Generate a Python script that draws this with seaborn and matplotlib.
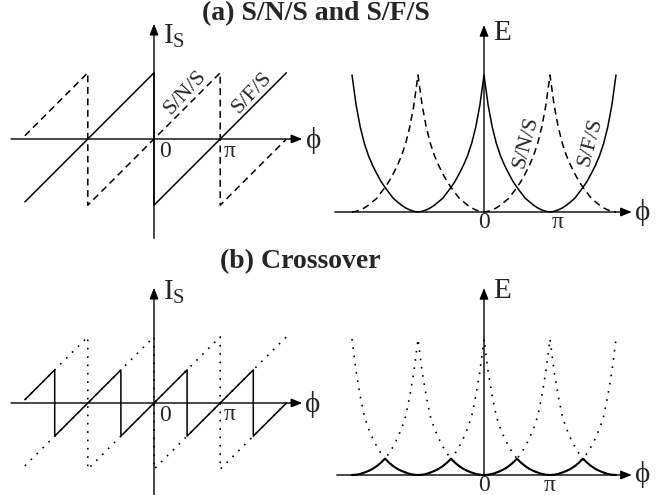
"""
Josephson junction schematic: current-phase and energy-phase relations
for S/N/S, S/F/S and the crossover case.
"""

import numpy as np
import pandas as pd
import matplotlib
matplotlib.use("Agg")
import matplotlib.pyplot as plt
import seaborn as sns


# ---------------------------------------------------------------------------
# Data (phase and current in units of pi, energy normalised to the top)
# ---------------------------------------------------------------------------

# current-phase sawtooth vertices
SNS_PHI = [-1.95, -1.0, -1.0, 1.0, 1.0, 2.0]
SNS_I   = [0.05, 1.0, -1.0, 1.0, -1.0, 0.0]
SFS_PHI = [-1.95, 0.0, 0.0, 2.0]
SFS_I   = [-0.95, 1.0, -1.0, 1.0]
CROSS_PHI = [-1.95, -1.5, -1.5, -0.5, -0.5, 0.5, 0.5, 1.5, 1.5, 2.0]
CROSS_I   = [0.05, 0.5, -0.5, 0.5, -0.5, 0.5, -0.5, 0.5, -0.5, 0.0]

# one energy lobe: distance from the minimum (pi units)
LOBE_U = [0.0, 0.0625, 0.125, 0.1875, 0.25, 0.3125, 0.375, 0.4375, 0.5,
          0.5625, 0.625, 0.6875, 0.75, 0.8125, 0.875, 0.9375, 1.0]
LOBE_E_A = [0.0, 0.005, 0.015, 0.03, 0.05, 0.075, 0.10, 0.14, 0.18,
            0.225, 0.28, 0.34, 0.41, 0.50, 0.62, 0.78, 1.0]
LOBE_E_B = [0.0, 0.002, 0.008, 0.018, 0.03, 0.045, 0.065, 0.09, 0.12,
            0.16, 0.21, 0.27, 0.34, 0.43, 0.58, 0.76, 1.0]

DASHED = (0, (4.5, 3))
DOTTED = (0, (1.0, 4.0))
SERIF = ["Liberation Serif", "DejaVu Serif"]


def build_energy(lobe_e):
    """Chain the lobe over [-2pi, 2pi]; S/N/S minima at 0, +-2pi, S/F/S at +-pi."""
    u = np.asarray(LOBE_U)
    e = np.asarray(lobe_e)
    up, down = e, e[::-1]
    phi = np.concatenate([-2 + u, -1 + u[1:], u[1:], 1 + u[1:]])
    sns_e = np.concatenate([up, down[1:], up[1:], down[1:]])
    sfs_e = np.concatenate([down, up[1:], down[1:], up[1:]])
    return pd.DataFrame({"phi": phi, "sns": sns_e, "sfs": sfs_e})


# ---------------------------------------------------------------------------
# Layout helpers
# ---------------------------------------------------------------------------

W, H = 665, 495


def panel(fig, ox, oy, sx, sy, box):
    """Axes over pixel box (x0, y0, x1, y1) with data origin at pixel (ox, oy)."""
    x0, y0, x1, y1 = box
    ax = fig.add_axes([x0 / W, 1 - y1 / H, (x1 - x0) / W, (y1 - y0) / H])
    ax.set_xlim((x0 - ox) / sx, (x1 - ox) / sx)
    ax.set_ylim((oy - y1) / sy, (oy - y0) / sy)
    ax.axis("off")
    return ax


def arrow(ax, start, end):
    ax.annotate("", xy=end, xytext=start, annotation_clip=False,
                arrowprops=dict(arrowstyle="-|>,head_length=0.55,head_width=0.22",
                                mutation_scale=12, lw=1.0, color="black",
                                shrinkA=0, shrinkB=0))


def line(ax, x, y, ls="-", lw=1.1):
    sns.lineplot(x=x, y=y, sort=False, estimator=None, ax=ax,
                 color="black", linewidth=lw, linestyle=ls)


def label(ax, x, y, s, size=17, **kw):
    ax.text(x, y, s, fontsize=size, family=SERIF, clip_on=False, **kw)


# ---------------------------------------------------------------------------
# Figure
# ---------------------------------------------------------------------------

sns.set_theme(style="white")
plt.rcParams["font.family"] = SERIF
plt.rcParams["mathtext.fontset"] = "custom"
plt.rcParams["mathtext.rm"] = "Liberation Serif"

fig = plt.figure(figsize=(W / 100, H / 100), dpi=100)

energy_a = build_energy(LOBE_E_A)
energy_b = build_energy(LOBE_E_B)
energy_b["min"] = np.minimum(energy_b["sns"], energy_b["sfs"])

# (a) current-phase
ax = panel(fig, 154, 139, 66.2, 66.2, (0, 20, 330, 245))
arrow(ax, (-2.16, 0), (2.24, 0))
arrow(ax, (0, -1.5), (0, 1.74))
line(ax, SNS_PHI, SNS_I, DASHED)
line(ax, SFS_PHI, SFS_I)
label(ax, 0.14, 1.55, r"I$_{\mathrm{S}}$", size=21, ha="left", va="center")
label(ax, 0.07, -0.19, "0", ha="left", va="center")
label(ax, 1.14, -0.19, "π", ha="center", va="center")
label(ax, 2.41, -0.02, "ϕ", size=21, ha="center", va="center")
label(ax, 0.58, 0.60, "S/N/S", size=16, rotation=47, rotation_mode="anchor",
      ha="center", va="bottom")
label(ax, 1.58, 0.60, "S/F/S", size=16, rotation=47, rotation_mode="anchor",
      ha="center", va="bottom")

# (a) energy-phase
ax = panel(fig, 484, 212, 66.0, 137.0, (330, 20, 665, 245))
arrow(ax, (-2.26, 0), (2.24, 0))
arrow(ax, (0, 0), (0, 1.365))
line(ax, energy_a["phi"], energy_a["sns"], DASHED)
line(ax, energy_a["phi"], energy_a["sfs"])
label(ax, 0.28, 1.31, "E", size=21, ha="center", va="center")
label(ax, 0.0, -0.08, "0", ha="center", va="center")
label(ax, 1.12, -0.08, "π", ha="center", va="center")
label(ax, 2.40, 0.0, "ϕ", size=21, ha="center", va="center")
label(ax, 0.64, 0.51, "S/N/S", size=16, rotation=75, ha="center", va="center")
label(ax, 1.62, 0.51, "S/F/S", size=16, rotation=75, ha="center", va="center")

# (b) current-phase
ax = panel(fig, 154, 403, 66.2, 66.2, (0, 280, 330, 495))
arrow(ax, (-2.16, 0), (2.24, 0))
arrow(ax, (0, -1.39), (0, 1.74))
line(ax, SNS_PHI, SNS_I, DOTTED, lw=1.2)
line(ax, SFS_PHI, SFS_I, DOTTED, lw=1.2)
line(ax, CROSS_PHI, CROSS_I)
label(ax, 0.14, 1.68, r"I$_{\mathrm{S}}$", size=21, ha="left", va="center")
label(ax, 0.07, -0.19, "0", ha="left", va="center")
label(ax, 1.14, -0.17, "π", ha="center", va="center")
label(ax, 2.40, -0.03, "ϕ", size=21, ha="center", va="center")

# (b) energy-phase
ax = panel(fig, 484, 475, 66.0, 136.0, (330, 280, 665, 495))
arrow(ax, (-2.23, 0), (2.24, 0))
arrow(ax, (0, 0), (0, 1.375))
line(ax, energy_b["phi"], energy_b["sns"], DOTTED, lw=1.2)
line(ax, energy_b["phi"], energy_b["sfs"], DOTTED, lw=1.2)
line(ax, energy_b["phi"], energy_b["min"], lw=1.5)
label(ax, 0.28, 1.35, "E", size=21, ha="center", va="center")
label(ax, 0.0, -0.08, "0", ha="center", va="center")
label(ax, 1.0, -0.08, "π", ha="center", va="center")
label(ax, 2.40, 0.0, "ϕ", size=21, ha="center", va="center")

# panel titles
fig.text(316 / W, 1 - 14 / H, "(a) S/N/S and S/F/S", fontsize=20,
         fontweight="bold", family=SERIF, ha="center", va="center")
fig.text(300 / W, 1 - 262 / H, "(b) Crossover", fontsize=20,
         fontweight="bold", family=SERIF, ha="center", va="center")

fig.savefig("out.png", dpi=100, facecolor="white")
